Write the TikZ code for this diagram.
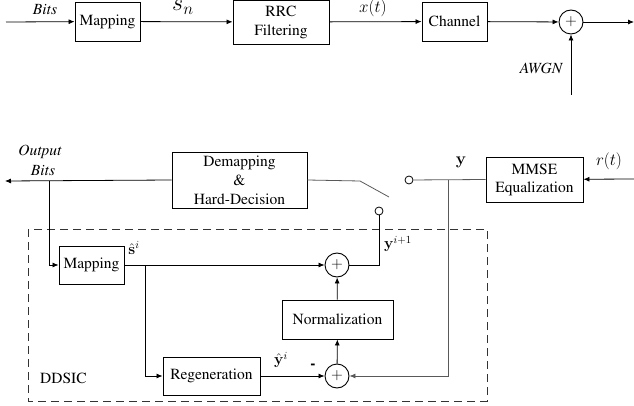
\RequirePackage{fix-cm}
\documentclass[tikz,border=0pt]{standalone}
\usepackage{amsmath}
\usepackage[T1]{fontenc}
\renewcommand{\rmdefault}{ptm}
\usetikzlibrary{arrows.meta}
\begin{document}
\begin{tikzpicture}[x=1pt,y=-1pt,
  every node/.style={font=\fontsize{15.5}{17}\selectfont},
  blk/.style={draw, line width=0.9pt, inner sep=0pt, align=center},
  sumc/.style={draw, circle, line width=0.9pt, minimum size=24pt, inner sep=0pt},
  tip/.style={-{Latex[length=6pt,width=5pt]}},
  wire/.style={line width=0.8pt},
  gwire/.style={line width=0.8pt, black!65},
  port/.style={draw, circle, line width=0.8pt, minimum size=8pt, inner sep=0pt, fill=white},
  lbl/.style={inner sep=0pt}]
\useasboundingbox (0,0) rectangle (634,406);

% ---------------- transmitter chain ----------------
\coordinate (tin) at (6,22);
\node[blk, minimum width=65pt, minimum height=39pt] (map1) at (107.5,21.5) {Mapping};
\node[blk, minimum width=96pt, minimum height=44pt] (rrc) at (281,22) {RRC\\[2pt]Filtering};
\node[blk, minimum width=65pt, minimum height=39pt] (chan) at (454.5,21.5) {Channel};
\node[sumc] (add) at (571,22) {$+$};
\coordinate (tout) at (634,22);
\coordinate (noise) at (571,95);

\draw[wire,tip] (tin) -- (map1);
\draw[wire,tip] (map1) -- (rrc);
\draw[wire,tip] (rrc) -- (chan);
\draw[wire,tip] (chan) -- (add);
\draw[wire,tip] (add) -- (tout);
\draw[wire,tip] (noise) -- (add);

\node[lbl] (lbits) at (45,10) {\itshape Bits};
\node[lbl, anchor=base west, font=\fontsize{24}{26}\selectfont] (lsn) at (172,11) {$s_n$};
\node[lbl, font=\fontsize{17}{19}\selectfont] (lxt) at (373,8) {$x(t)$};
\node[lbl] (lawgn) at (541,68) {\itshape AWGN};

% ---------------- receiver ----------------
\node[blk, minimum width=135pt, minimum height=56pt] (demap) at (239.5,180) {Demapping\\[2pt]\&\\[2pt]Hard-Decision};
\node[blk, minimum width=97pt, minimum height=45pt] (mmse) at (534.5,179.5) {MMSE\\[1pt]Equalization};
\coordinate (rin) at (634,179);
\coordinate (obits) at (5,181);
\coordinate (tap) at (49,181);
\coordinate (swa) at (360,181);
\coordinate (swb) at (389,197);
\node[port] (p1) at (409,180) {};
\node[port] (p2) at (379,211) {};
\coordinate (ytap) at (448,180);

\draw[wire,tip] (rin) -- (mmse);
\draw[wire,tip] (demap.west) -- (obits);
\draw[gwire] (demap.east) -- (swa) -- (swb);
\draw[gwire] (mmse.west) -- (p1);

\node[lbl] (lout1) at (40,152) {\itshape Output};
\node[lbl] (lout2) at (43,171) {\itshape Bits};
\node[lbl, font=\fontsize{17}{19}\selectfont] (ly) at (461,162) {$\mathbf{y}$};
\node[lbl, font=\fontsize{17}{19}\selectfont] (lrt) at (609,161) {$r(t)$};

% ---------------- DDSIC block ----------------
\draw[line width=1pt, dash pattern=on 8pt off 5pt, black!80] (28,229) rectangle (487,401);
\node[lbl, anchor=west] (lddsic) at (40,378) {DDSIC};

\node[blk, minimum width=65pt, minimum height=38pt] (map2) at (91.5,265) {Mapping};
\node[blk, minimum width=97pt, minimum height=38pt] (regen) at (211.5,376) {Regeneration};
\node[blk, minimum width=111pt, minimum height=39pt] (norm) at (337.5,319.5) {Normalization};
\node[sumc] (s1) at (337,265) {$+$};
\node[sumc] (s2) at (337,376) {$+$};
\coordinate (br) at (145,265);

\draw[wire,tip] (tap) |- (map2);
\draw[wire,tip] (map2) -- (s1);
\draw[wire,tip] (br) |- (regen);
\draw[wire,tip] (regen) -- (s2);
\draw[wire,tip] (s2) -- (norm);
\draw[wire,tip] (norm) -- (s1);
\draw[gwire,tip] (ytap) |- (s2);
\draw[wire] (p2) |- (s1);

\node[lbl] (lshat) at (134,248) {$\hat{\mathbf{s}}^{i}$};
\node[lbl] (lyhat) at (281,360) {$\hat{\mathbf{y}}^{i}$};
\node[lbl] (lminus) at (313,366) {\textbf{-}};
\node[lbl] (lynext) at (398,244) {$\mathbf{y}^{i+1}$};
\end{tikzpicture}
\end{document}
